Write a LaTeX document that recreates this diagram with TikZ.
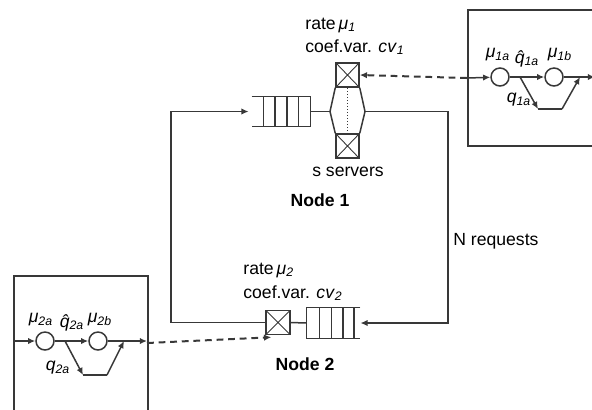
\documentclass[tikz,border=0pt]{standalone}
\usepackage{fontspec}
\setmainfont{Liberation Sans}
\usepackage{tikz}
\usetikzlibrary{arrows.meta,positioning,calc}
\colorlet{lineGray}{black!78}
\newcommand{\ital}[2]{\textit{#1}\textsubscript{\textit{#2}}}
\newcommand{\qhat}{\rlap{\hspace{0.14em}\textit{ˆ}}\textit{q}}
\tikzset{
  x=0.5pt, y=-0.5pt,
  font=\fontsize{8.8pt}{10.5pt}\selectfont,
  wire/.style ={draw=lineGray, line width=0.75pt},
  arr/.style  ={wire, -{Latex[length=3.6pt,width=3.2pt]}},
  darr/.style ={arr, dash pattern=on 3.4pt off 2.4pt, line width=1pt},
  qbox/.style ={inner sep=0pt, minimum height=14.5pt},
  srv/.style  ={draw=lineGray, line width=0.75pt, inner sep=0pt,
                minimum width=11.5pt, minimum height=12pt,
                path picture={\draw[lineGray, line width=0.45pt]
                  (path picture bounding box.north west) -- (path picture bounding box.south east)
                  (path picture bounding box.south west) -- (path picture bounding box.north east);}},
  st/.style   ={draw=lineGray, circle, line width=0.75pt, inner sep=0pt, minimum size=9pt},
  frame/.style={draw=lineGray, line width=1pt, inner sep=0pt},
  lbl/.style  ={inner sep=0pt},
  title/.style={inner sep=0pt, font=\fontsize{8.8pt}{10.5pt}\selectfont\bfseries},
}

\begin{document}
\begin{tikzpicture}
  \useasboundingbox (0,0) rectangle (592,409);
  \clip (0,0) rectangle (592,409);

  % node 1 (queue + s servers)
  \node[qbox, minimum width=29pt] (q1)  at (281,111.5) {};
  \node[srv]                      (s1a) at (347.5,75)  {};
  \node[srv]                      (s1b) at (347.5,146) {};
  \coordinate (hexL) at (330,111.5);
  \coordinate (hexR) at (365,111.5);
  \draw[wire] (q1.north west) -- (q1.north east) -- (q1.south east) -- (q1.south west);
  \foreach \f in {0.2,0.4,0.6,0.8}
    \draw[wire] ($(q1.north west)!\f!(q1.north east)$) -- ($(q1.south west)!\f!(q1.south east)$);
  \draw[wire] (q1.east) -- (hexL);
  \draw[wire] (s1a.south west) -- (hexL) -- (s1b.north west);
  \draw[wire] (s1a.south east) -- (hexR) -- (s1b.north east);
  \draw[lineGray, line width=0.9pt, dash pattern=on 0.6pt off 0.9pt] (s1a.south) -- (s1b.north);

  % node 2 (one server + queue)
  \node[qbox, minimum width=26.5pt, minimum height=15pt] (q2) at (333.5,323) {};
  \node[srv, minimum width=12pt]  (s2)  at (278,322.5) {};
  \draw[wire] (q2.north east) -- (q2.north west) -- (q2.south west) -- (q2.south east);
  \foreach \f in {0.24,0.46,0.68,0.88}
    \draw[wire] ($(q2.north west)!\f!(q2.north east)$) -- ($(q2.south west)!\f!(q2.south east)$);
  \draw[wire] (q2.west) -- (s2.east);

  % closed loop
  \coordinate (rtc) at (448,111.5);
  \coordinate (ltc) at (171,111.5);
  \draw[arr] (hexR) -- (rtc) |- (q2.east);
  \draw[arr, shorten >=1.5pt] (s2.west) -| (ltc) -- (q1.west);

  % labels
  \node[lbl, anchor=west] (rt1) at (305,25) {rate\,\ital{μ}{1}};
  \node[lbl, anchor=west] (cv1) at (305,47) {coef.var. \ital{cv}{1}};
  \node[lbl]              (ns)  at (348,172) {s servers};
  \node[title]            (n1)  at (320,200) {Node 1};
  \node[lbl, anchor=west] (nr)  at (453,241) {N requests};
  \node[lbl, anchor=west] (rt2) at (243,270) {rate\,\ital{μ}{2}};
  \node[lbl, anchor=west] (cv2) at (243,293) {coef.var. \ital{cv}{2}};
  \node[title]            (n2)  at (305,364) {Node 2};

  % right box (server 1 detail)
  \node[frame, anchor=north west, minimum width=71.5pt, minimum height=68pt] (rbox) at (467,9) {};
  \node[st] (c1a) at (500,77) {};
  \node[st] (c1b) at (554,77) {};
  \coordinate (rout) at (595,77);
  \coordinate (b1) at (520,77);
  \coordinate (k1) at (538,109);
  \coordinate (k2) at (562,109);
  \coordinate (m1) at (580,77);
  \draw[arr] (rbox.west) -- (c1a);
  \draw[arr] (c1a) -- (c1b);
  \draw[arr] (c1b) -- (rout);
  \draw[arr] (b1) -- (k1);
  \draw[wire] (k1) -- (k2);
  \draw[arr] (k2) -- (m1);
  \node[lbl] (mu1a) at (498,55)  {\ital{μ}{1a}};
  \node[lbl] (qh1a) at (527,59)  {\ital{\qhat}{1a}};
  \node[lbl] (mu1b) at (560,55)  {\ital{μ}{1b}};
  \node[lbl] (q1a)  at (519,100) {\ital{q}{1a}};
  \draw[darr] (rbox.west) -- (s1a.east);

  % left box (server 2 detail)
  \node[frame, anchor=north west, minimum width=67pt, minimum height=80pt] (lbox) at (13,275) {};
  \coordinate (lin)  at (13,341);
  \coordinate (lout) at (147,341);
  \node[st] (c2a) at (45,341) {};
  \node[st] (c2b) at (98,341) {};
  \coordinate (b2) at (65,341);
  \coordinate (k3) at (83,375);
  \coordinate (k4) at (107,375);
  \coordinate (m2) at (124,341);
  \draw[arr] (lin) -- (c2a);
  \draw[arr] (c2a) -- (c2b);
  \draw[arr] (c2b) -- (lout);
  \draw[arr] (b2) -- (k3);
  \draw[wire] (k3) -- (k4);
  \draw[arr] (k4) -- (m2);
  \node[lbl] (mu2a) at (41,320)  {\ital{μ}{2a}};
  \node[lbl] (qh2a) at (72,323)  {\ital{\qhat}{2a}};
  \node[lbl] (mu2b) at (100,320) {\ital{μ}{2b}};
  \node[lbl] (q2a)  at (58,368)  {\ital{q}{2a}};
  \draw[darr] ($(lout)+(0,2)$) -- ($(s2.south west)+(6,2)$);
\end{tikzpicture}
\end{document}
